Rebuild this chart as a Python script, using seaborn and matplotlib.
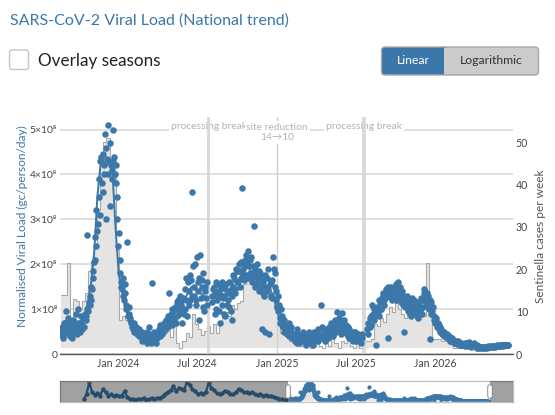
import matplotlib
matplotlib.use("Agg")
import matplotlib.pyplot as plt
import matplotlib.dates as mdates
import matplotlib.patheffects as pe
from matplotlib.patches import FancyBboxPatch
from matplotlib.transforms import blended_transform_factory
import numpy as np
import pandas as pd
import seaborn as sns

# ---- data -------------------------------------------------------------
# normalised viral load, in units of 1e8 gc/person/day.
# two interleaved sample sets (every 3 days, second one offset by a day),
# split at the two processing breaks
vl_starts = ["2023-08-22", "2024-08-04", "2025-07-27"]
vl_starts_b = ["2023-08-23", "2024-08-05", "2025-07-28"]
vl_2023_24 = [0.45, 0.6, 0.35, 0.7, 0.95, 0.5, 0.65, 0.4, 0.55, 0.75,
              0.5, 0.6, 0.45, 1.0, 0.65, 0.7, 0.55, 0.8, 0.6, 0.85,
              2.65, 0.95, 1.1, 1.2, 1.45, 1.7, 2.1, 2.4, 2.75, 3.5,
              3.1, 4.4, 3.6, 4.2, 4.9, 3.0, 5.1, 4.3, 3.3, 4.1,
              5.0, 4.4, 3.8, 3.0, 2.4, 1.8, 1.6, 1.45, 1.3, 1.55,
              1.1, 2.5, 0.9, 0.8, 0.7, 0.55, 0.7, 0.5, 0.6, 0.45,
              0.55, 0.4, 0.5, 0.35, 0.45, 0.3, 0.5, 0.35, 0.6, 0.25,
              1.58, 0.4, 0.3, 0.45, 0.35, 0.55, 0.4, 0.6, 0.5, 0.7,
              0.55, 0.75, 0.6, 1.35, 0.8, 0.65, 0.95, 0.75, 1.0, 0.85,
              1.2, 0.9, 1.1, 0.7, 1.25, 1.0, 1.7, 0.85, 1.4, 1.2,
              1.65, 3.6, 1.3, 2.0, 1.1, 1.6, 0.75, 2.2, 1.5, 1.8,
              0.95, 1.4, 1.1]
vl_2023_24_b = [0.55, 0.4, 0.7, 0.5, 0.6, 0.8, 0.45, 0.7, 0.35, 0.6,
                0.65, 0.9, 0.55, 0.7, 0.5, 0.85, 0.65, 0.6, 0.9, 0.75,
                1.0, 1.15, 1.3, 1.5, 1.85, 2.05, 2.6, 3.2, 2.9, 3.9,
                4.3, 3.8, 4.45, 4.0, 4.6, 4.35, 4.0, 4.7, 4.2, 3.9,
                4.3, 4.0, 4.2, 3.5, 2.7, 2.1, 1.5, 1.7, 1.2, 1.35,
                1.0, 0.85, 1.05, 0.75, 0.6, 0.65, 0.5, 0.6, 0.45, 0.55,
                0.4, 0.5, 0.3, 0.4, 0.35, 0.45, 0.25, 0.4, 0.3, 0.45,
                0.3, 0.5, 0.4, 0.25, 0.5, 0.45, 0.65, 0.45, 0.55, 0.6,
                0.7, 0.6, 0.85, 0.7, 0.9, 1.0, 0.8, 1.05, 0.7, 1.15,
                1.0, 1.3, 0.95, 1.2, 0.9, 1.45, 1.2, 1.6, 1.1, 1.75,
                1.3, 1.95, 1.5, 1.2, 2.15, 1.4, 1.7, 1.25, 1.65, 1.05,
                1.5, 1.25, 1.6]
vl_2024_25 = [1.3, 1.45, 0.9, 1.6, 1.2, 1.4, 0.7, 1.5, 1.1, 1.3,
              0.85, 1.55, 1.2, 1.05, 1.4, 0.75, 1.5, 1.7, 1.35, 1.85,
              1.6, 2.0, 1.7, 3.7, 1.9, 2.1, 1.75, 2.0, 2.3, 1.8,
              2.15, 1.6, 2.85, 1.9, 1.55, 1.75, 1.4, 1.8, 0.55, 1.6,
              1.3, 0.5, 1.7, 1.45, 0.45, 1.6, 1.25, 2.15, 1.8, 1.4,
              1.05, 1.3, 0.8, 1.0, 0.65, 0.75, 0.55, 0.6, 0.45, 0.7,
              0.4, 0.5, 0.35, 0.45, 0.3, 0.55, 0.35, 0.25, 0.4, 0.3,
              0.5, 0.35, 0.2, 0.4, 0.3, 0.45, 0.25, 0.35, 0.5, 0.3,
              0.4, 0.55, 0.35, 0.45, 1.1, 0.4, 0.55, 0.3, 0.5, 0.35,
              0.6, 0.45, 0.55, 0.4, 0.65, 0.5, 0.93, 0.55, 0.7, 0.45,
              0.92, 0.6, 0.5, 0.65, 0.4, 0.55, 0.35, 0.45, 0.3, 0.4,
              0.5, 0.35, 0.45, 0.3, 0.4, 0.35]
vl_2024_25_b = [1.15, 1.5, 1.35, 1.0, 1.55, 0.95, 1.3, 1.6, 1.25, 0.9,
                1.45, 1.1, 1.35, 1.6, 0.95, 1.3, 1.75, 1.45, 1.9, 1.6,
                1.85, 1.5, 2.05, 1.8, 1.65, 1.95, 2.2, 1.7, 1.95, 2.1,
                1.7, 1.95, 1.8, 1.5, 2.0, 1.65, 1.85, 1.5, 1.7, 1.35,
                1.75, 1.5, 1.4, 1.9, 1.55, 1.3, 1.65, 1.9, 1.5, 1.2,
                0.95, 1.1, 0.7, 0.85, 0.6, 0.5, 0.65, 0.45, 0.55, 0.4,
                0.6, 0.35, 0.45, 0.3, 0.4, 0.25, 0.45, 0.35, 0.3, 0.45,
                0.3, 0.4, 0.35, 0.25, 0.5, 0.3, 0.4, 0.2, 0.45, 0.35,
                0.5, 0.3, 0.45, 0.4, 0.6, 0.35, 0.5, 0.45, 0.4, 0.55,
                0.45, 0.7, 0.5, 0.6, 0.75, 0.55, 0.65, 0.8, 0.6, 0.7,
                0.55, 0.75, 0.65, 0.45, 0.6, 0.35, 0.5, 0.4, 0.35, 0.5,
                0.3, 0.45, 0.35, 0.4, 0.25, 0.45]
vl_2025_26 = [0.55, 0.7, 0.6, 0.85, 1.1, 0.75, 0.95, 0.2, 1.0, 0.85,
              1.15, 1.0, 1.3, 1.1, 1.25, 1.4, 0.35, 1.3, 1.5, 1.2,
              1.45, 1.35, 1.55, 1.25, 1.6, 1.3, 1.15, 1.4, 0.5, 1.2,
              1.05, 1.3, 0.95, 1.15, 0.85, 1.1, 1.2, 0.9, 1.05, 0.8,
              1.15, 0.95, 1.2, 1.05, 1.45, 1.25, 1.1, 1.3, 0.33, 1.15,
              0.95, 0.85, 0.7, 0.8, 0.6, 0.65, 0.5, 0.55, 0.45, 0.5,
              0.4, 0.45, 0.35, 0.4, 0.3, 0.35, 0.3, 0.25, 0.3, 0.22,
              0.28, 0.2, 0.25, 0.2, 0.22, 0.18, 0.24, 0.2, 0.26, 0.2,
              0.16, 0.22, 0.25, 0.2, 0.14, 0.18, 0.15, 0.13, 0.16, 0.14,
              0.15, 0.16, 0.15, 0.17, 0.16, 0.18, 0.17, 0.15, 0.18, 0.17,
              0.19, 0.18, 0.17, 0.19, 0.18, 0.2, 0.19, 0.21, 0.2]
vl_2025_26_b = [0.45, 0.6, 0.8, 0.65, 0.9, 1.0, 0.85, 1.05, 0.9, 1.2,
                1.0, 1.25, 1.35, 1.2, 1.45, 1.3, 1.5, 1.35, 1.25, 1.45,
                1.3, 1.5, 1.2, 1.4, 1.3, 1.5, 1.25, 1.1, 1.3, 1.05,
                1.2, 0.95, 1.1, 0.9, 1.25, 1.0, 0.95, 1.15, 0.85, 1.1,
                1.0, 1.25, 0.9, 1.35, 1.2, 1.15, 1.35, 1.0, 1.2, 0.9,
                1.05, 0.75, 0.8, 0.65, 0.7, 0.55, 0.6, 0.45, 0.5, 0.4,
                0.45, 0.35, 0.4, 0.3, 0.35, 0.28, 0.32, 0.26, 0.24, 0.27,
                0.22, 0.25, 0.19, 0.23, 0.2, 0.24, 0.17, 0.21, 0.19, 0.22,
                0.18, 0.2, 0.17, 0.15, 0.19, 0.14, 0.16, 0.15, 0.13, 0.15,
                0.14, 0.16, 0.14, 0.16, 0.15, 0.17, 0.16, 0.18, 0.16, 0.18,
                0.17, 0.19, 0.18, 0.2, 0.19, 0.2, 0.21, 0.19, 0.21]

# weekly trend line (1e8 gc/person/day)
trend_starts = ["2023-08-22", "2024-08-06", "2025-07-29"]
trend_2023_24 = [0.5, 0.6, 0.55, 0.6, 0.6, 0.65, 0.7, 0.75, 0.9, 1.2,
                 1.6, 2.3, 3.5, 4.2, 4.3, 4.2, 4.3, 4.0, 2.8, 1.8,
                 1.4, 1.1, 0.85, 0.7, 0.6, 0.5, 0.45, 0.45, 0.4, 0.38,
                 0.4, 0.42, 0.45, 0.55, 0.6, 0.7, 0.8, 0.9, 1.0, 1.1,
                 1.15, 1.25, 1.4, 1.5, 1.45, 1.4, 1.35, 1.3, 1.25]
trend_2024_25 = [1.3, 1.25, 1.3, 1.35, 1.3, 1.4, 1.5, 1.65, 1.8, 1.85,
                 1.9, 1.95, 1.9, 1.8, 1.7, 1.6, 1.55, 1.5, 1.45, 1.4,
                 1.3, 1.0, 0.75, 0.6, 0.5, 0.42, 0.4, 0.35, 0.35, 0.33,
                 0.35, 0.35, 0.36, 0.38, 0.4, 0.42, 0.45, 0.5, 0.55, 0.6,
                 0.6, 0.6, 0.55, 0.5, 0.45, 0.42, 0.4, 0.38, 0.38]
trend_2025_26 = [0.65, 0.8, 0.9, 1.0, 1.1, 1.2, 1.3, 1.35, 1.35,
                 1.3, 1.25, 1.2, 1.1, 1.05, 1.0, 1.0, 1.05, 1.1, 1.15,
                 1.15, 1.05, 0.85, 0.7, 0.6, 0.5, 0.42, 0.38, 0.33, 0.3,
                 0.27, 0.25, 0.23, 0.22, 0.21, 0.2, 0.18, 0.17, 0.16, 0.16,
                 0.16, 0.17, 0.17, 0.18, 0.18, 0.19, 0.19, 0.2]

# sentinella cases per week
sentinel_start = "2023-08-22"
sentinel_cases = [14, 14, 21.5, 8, 13, 12.5, 10.5, 12.5, 14.5, 19.5,
                  22, 26, 34, 45.5, 50, 51, 45, 42, 24.5, 8,
                  9, 8, 8.5, 6, 5, 4.5, 4, 5, 3.5, 4,
                  3.5, 5, 4.5, 6, 5, 5.5, 4, 6.5, 2.5, 1.5,
                  3, 5, 4, 9.5, 7, 6, 4.5, 5.5, 6.5, 5,
                  7, 5, 7.5, 9.5, 10, 9, 11.5, 10.5, 12, 12.5,
                  16.5, 19, 18, 21, 20, 17.5, 15, 16, 13, 14.5,
                  10.5, 12, 5, 6.5, 4, 3, 3, 2.5, 3.5, 2,
                  2.5, 3, 1.5, 2.5, 3, 2, 1.5, 3, 2, 4,
                  2.5, 1.5, 3, 2.5, 3.5, 2, 1.5, 3, 1.5, 2.5,
                  3, 3, 3.5, 7, 6.5, 8.5, 7.5, 9.5, 11, 10,
                  12, 10.5, 9.5, 8.5, 11, 9, 10, 8, 9.5, 9,
                  21.5, 10, 3.5, 3.5, 3.5, 3, 3.5, 3, 3, 1.5,
                  1.5, 1.5, 1.6, 1.5, 1.5, 1.4, 1.5, 1.5, 1.6, 1.5,
                  1.5, 1.5, 1.4, 1.5, 1.5, 1.5, 1.5, 1.5]

# older history only visible in the range slider (every 14 days, 1e8)
history_start = "2020-10-02"
history_vl = [0.7, 2.0, 5.0, 2.6, 1.8, 2.2, 1.6, 3.2, 2.4, 1.6,
              1.9, 1.4, 1.8, 1.5, 1.6, 2.8, 1.2, 0.8, 0.7, 0.6,
              0.8, 0.7, 0.9, 0.6, 0.7, 1.0, 0.8, 0.9, 1.1, 1.4,
              2.0, 2.6, 3.0, 4.0, 2.8, 3.6, 3.4, 3.0, 5.1, 4.2,
              3.2, 2.8, 2.0, 2.2, 2.0, 2.6, 4.8, 3.6, 3.0, 2.2,
              2.0, 2.2, 2.8, 2.6, 2.0, 2.0, 2.4, 3.3, 3.0, 2.4,
              2.4, 2.2, 2.4, 2.0, 1.8, 2.0, 1.6, 1.8, 1.5, 1.6,
              1.2, 1.0, 0.8, 0.7, 0.5, 0.6]

break_periods = [("2024-07-24", "2024-07-31"), ("2025-07-16", "2025-07-25")]
break_labels = ["2024-07-28", "2025-07-20"]
site_reduction = "2025-01-01"
view_range = ("2023-08-20", "2026-06-28")
full_range = ("2020-06-01", "2026-10-25")
x_ticks = ["2024-01-01", "2024-07-01", "2025-01-01", "2025-07-01", "2026-01-01"]
left_ticks = [0, 1, 2, 3, 4, 5]
left_labels = ["0", "1×10⁸", "2×10⁸", "3×10⁸", "4×10⁸", "5×10⁸"]
right_ticks = [0, 10, 20, 30, 40, 50]

# ---- build frames --------------------------------------------------------
vl_frames = []
for starts, seasons in [(vl_starts, [vl_2023_24, vl_2024_25, vl_2025_26]),
                        (vl_starts_b, [vl_2023_24_b, vl_2024_25_b, vl_2025_26_b])]:
    for start, vals in zip(starts, seasons):
        vl_frames.append(pd.DataFrame({"date": pd.date_range(start, periods=len(vals), freq="3D"),
                                       "vl": vals}))
vl_df = pd.concat(vl_frames, ignore_index=True)

trend_frames = []
for n, (start, vals) in enumerate(zip(trend_starts, [trend_2023_24, trend_2024_25, trend_2025_26])):
    trend_frames.append(pd.DataFrame({"date": pd.date_range(start, periods=len(vals), freq="7D"),
                                      "vl": vals, "season": n}))
trend_df = pd.concat(trend_frames, ignore_index=True)

sent_df = pd.DataFrame({"date": pd.date_range(sentinel_start, periods=len(sentinel_cases), freq="7D"),
                        "cases": sentinel_cases})
hist_df = pd.DataFrame({"date": pd.date_range(history_start, periods=len(history_vl), freq="14D"),
                        "vl": history_vl})

# ---- style ---------------------------------------------------------------
sns.set_style("white")
plt.rcParams["font.family"] = ["Lato", "DejaVu Sans"]

BLUE = "#3b77a8"
GREY_FILL = "#e5e4e2"
GREY_EDGE = "#a9a9a9"
TICK = "#444444"

W, H = 555, 415
fig = plt.figure(figsize=(W / 100, H / 100), dpi=100)


def rect(x0, y0, x1, y1):
    # pixel box (top-left origin) -> figure fraction rect
    return [x0 / W, 1 - y1 / H, (x1 - x0) / W, (y1 - y0) / H]


def fx(px):
    return px / W


def fy(py):
    return 1 - py / H


# ---- main plot: three layers (grid / sentinel / viral load) ---------------
main_rect = rect(60, 117, 513, 354)
ax = fig.add_axes(main_rect)
ax_r = ax.twinx()
ax_f = fig.add_axes(main_rect, sharex=ax, sharey=ax)
ax.set_zorder(1)
ax_r.set_zorder(2)
ax_f.set_zorder(3)
ax_r.patch.set_visible(False)
ax_f.patch.set_visible(False)

ax.set_xlim(pd.Timestamp(view_range[0]), pd.Timestamp(view_range[1]))
ax.set_ylim(0, 5.28)
ax_r.set_ylim(0, 55.9)

ax.yaxis.grid(True, color="#dcdcdc", lw=1.3)
ax.xaxis.grid(False)
for s in ["top", "left", "right"]:
    ax.spines[s].set_visible(False)
ax.spines["bottom"].set_color("#555555")
ax.spines["bottom"].set_linewidth(1)
for s in ax_r.spines.values():
    s.set_visible(False)

ax.set_yticks(left_ticks)
ax.set_yticklabels(left_labels)
ax.set_xticks([pd.Timestamp(t) for t in x_ticks])
ax.xaxis.set_major_formatter(mdates.DateFormatter("%b %Y"))
ax.tick_params(axis="y", length=0, pad=2, labelsize=7.5, colors=TICK)
ax.tick_params(axis="x", length=0, pad=3, labelsize=7.6, colors=TICK)
ax_r.set_yticks(right_ticks)
ax_r.tick_params(axis="y", length=0, pad=2, labelsize=7.6, colors=TICK)
ax.set_xlabel("")
ax.set_ylabel("")

# sentinel cases (grey steps)
ax_r.fill_between(sent_df["date"], 1.4, sent_df["cases"], step="post", color=GREY_FILL, lw=0, zorder=1)
sns.lineplot(data=sent_df, x="date", y="cases", drawstyle="steps-post", color=GREY_EDGE,
             lw=0.8, ax=ax_r, zorder=1.5)
ax_r.set_ylabel("")
ax_r.set_xlabel("")

# processing breaks and site reduction annotations
blend = blended_transform_factory(ax_r.transData, ax_r.transAxes)
ax_r.axvline(pd.Timestamp(site_reduction), color="#cfcfcf", lw=1, zorder=1.6)
for (b0, b1), lab in zip(break_periods, break_labels):
    ax_r.axvspan(pd.Timestamp(b0), pd.Timestamp(b1), color="#d4d4d4", alpha=0.85, lw=0, zorder=4)
    ax_r.text(pd.Timestamp(lab), 0.962, "processing break", transform=blend, ha="center", va="center",
              fontsize=7.4, color="#b3b3b3", zorder=2,
              bbox=dict(fc="white", ec="none", pad=1.2))
ax_r.text(pd.Timestamp(site_reduction), 0.935, "site reduction\n14→10", transform=blend,
          ha="center", va="center", fontsize=7.4, color="#b3b3b3", zorder=3, linespacing=1.15,
          bbox=dict(fc="white", ec="none", pad=1.2))

# viral load points + trend
sns.scatterplot(data=vl_df, x="date", y="vl", ax=ax_f, color=BLUE, s=22, linewidth=0, legend=False)
sns.lineplot(data=trend_df, x="date", y="vl", units="season", estimator=None, ax=ax_f,
             color=BLUE, lw=1.4, legend=False)
ax_f.axis("off")

# axis titles
fig.text(fx(22.5), fy(226), "Normalised Viral Load (gc/person/day)", rotation=90, ha="center",
         va="center", color=BLUE, fontsize=8.6)
fig.text(fx(540), fy(236), "Sentinella cases per week", rotation=90, ha="center", va="center",
         color="#555555", fontsize=8.6)

# ---- header widgets ------------------------------------------------------
fig.text(fx(10), fy(25), "SARS-CoV-2 Viral Load (National trend)", color=BLUE, fontsize=11.5,
         va="baseline", ha="left")
fig.text(fx(38), fy(66), "Overlay seasons", color="#222222", fontsize=12.3, va="baseline", ha="left")


def px_box(x0, y0, x1, y1, **kw):
    p = FancyBboxPatch((x0 / 100, (H - y1) / 100), (x1 - x0) / 100, (y1 - y0) / 100,
                       transform=fig.dpi_scale_trans, **kw)
    fig.add_artist(p)
    return p


px_box(9.5, 50, 28.5, 69.5, boxstyle="round,pad=0,rounding_size=0.025", fc="white", ec="#c6c6c6", lw=1)
px_box(381.5, 47, 538.5, 75, boxstyle="round,pad=0,rounding_size=0.035", fc="#cbcbcb", ec="none")
px_box(381.5, 47, 448, 75, boxstyle="round,pad=0,rounding_size=0.035", fc=BLUE, ec="none")
px_box(444, 47.5, 449, 74.5, boxstyle="square,pad=0", fc="#cbcbcb", ec="none")
px_box(381.5, 47, 538.5, 75, boxstyle="round,pad=0,rounding_size=0.035", fc="none", ec="#a8a8a8", lw=1)
fig.text(fx(413), fy(61), "Linear", color="white", fontsize=8.8, ha="center", va="center")
fig.text(fx(491.5), fy(61), "Logarithmic", color="#333333", fontsize=8.8, ha="center", va="center")

# ---- range slider --------------------------------------------------------
slider_rect = rect(60, 381, 513, 402)
sax_r = fig.add_axes(slider_rect)
sax = fig.add_axes(slider_rect)
sax_r.set_zorder(4)
sax.set_zorder(5)
sax.patch.set_visible(False)
sax_r.fill_between(sent_df["date"], 1.4, sent_df["cases"], step="post", color=GREY_FILL, lw=0)
sax_r.set_xlim(pd.Timestamp(full_range[0]), pd.Timestamp(full_range[1]))
sax_r.set_ylim(0, 56)
sax_r.axis("off")

sns.scatterplot(data=hist_df, x="date", y="vl", ax=sax, color=BLUE, s=10, linewidth=0, legend=False)
sns.lineplot(data=hist_df, x="date", y="vl", ax=sax, color=BLUE, lw=1.6, legend=False)
sns.scatterplot(data=vl_df, x="date", y="vl", ax=sax, color=BLUE, s=9, linewidth=0, legend=False)
sns.lineplot(data=trend_df, x="date", y="vl", units="season", estimator=None, ax=sax,
             color=BLUE, lw=1.4, legend=False)
sax.set_xlim(pd.Timestamp(full_range[0]), pd.Timestamp(full_range[1]))
sax.set_ylim(0, 5.3)
sax.set_xticks([])
sax.set_yticks([])
sax.set_xlabel("")
sax.set_ylabel("")
for s in sax.spines.values():
    s.set_color("#c4c4c4")
    s.set_linewidth(1)
sax.axvspan(pd.Timestamp(full_range[0]), pd.Timestamp(view_range[0]), color="black", alpha=0.37, lw=0, zorder=6)
sax.axvspan(pd.Timestamp(view_range[1]), pd.Timestamp(full_range[1]), color="black", alpha=0.37, lw=0, zorder=6)
sblend = blended_transform_factory(sax.transData, sax.transAxes)
for edge in view_range:
    t = pd.Timestamp(edge)
    sax.plot([t, t], [0.27, 0.73], transform=sblend, color="white", lw=2.6, solid_capstyle="round",
             zorder=7, path_effects=[pe.Stroke(linewidth=4, foreground="#8c8c8c"), pe.Normal()])

fig.savefig("out.png", dpi=100)
